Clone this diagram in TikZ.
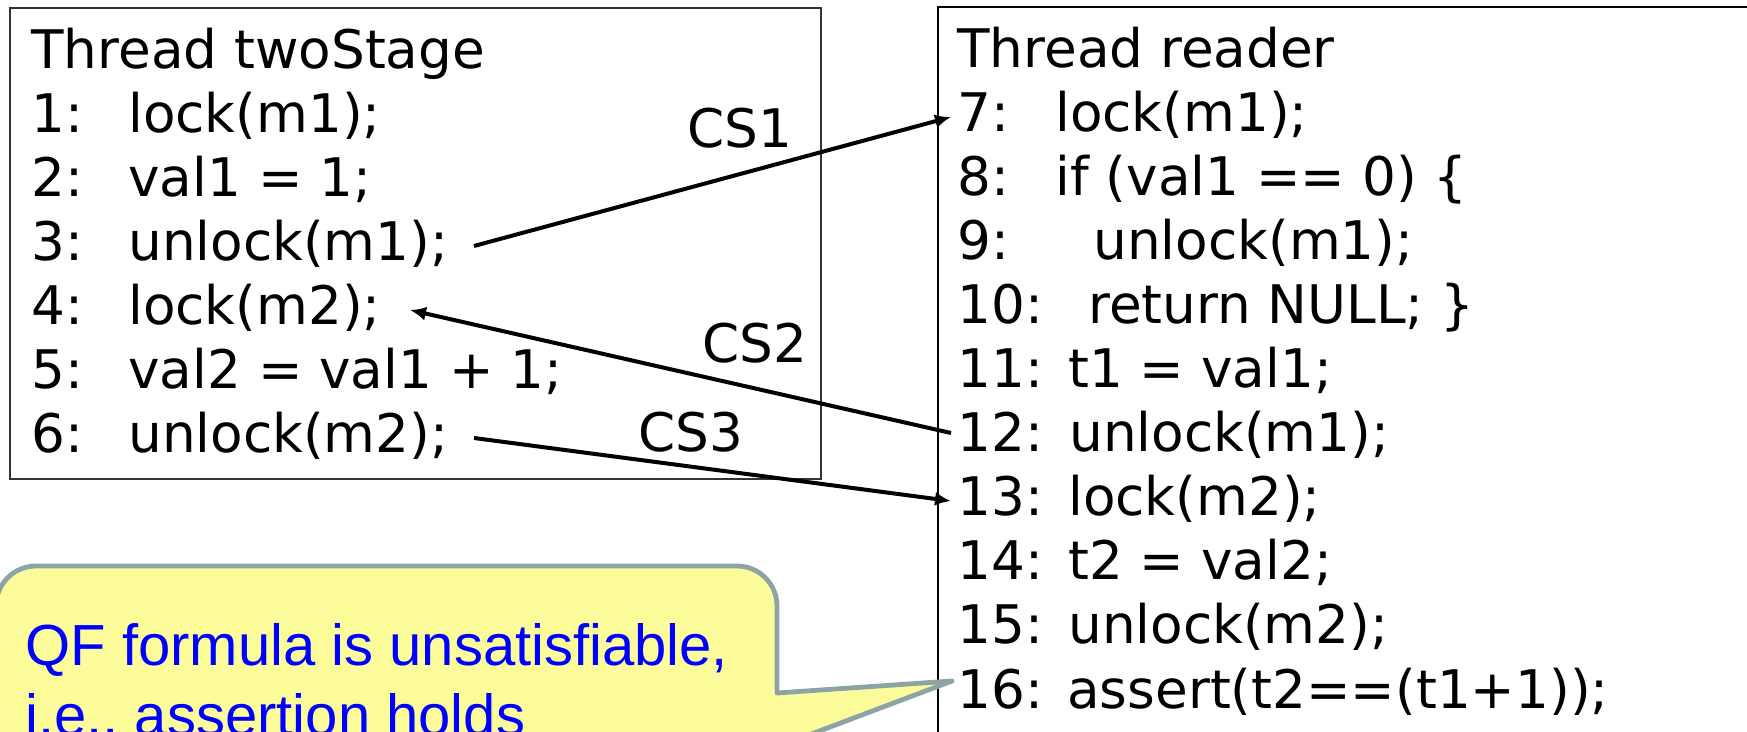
\documentclass[tikz,border=0pt]{standalone}
\usepackage{fontspec}
\setmainfont{DejaVu Sans}
\newfontfamily\notefont{Liberation Sans}
\usetikzlibrary{arrows.meta}
\definecolor{noteFill}{RGB}{253,252,154}
\definecolor{noteEdge}{RGB}{140,164,166}
\definecolor{noteText}{RGB}{0,0,255}
% line number set in a fixed-width slot, followed by the statement
\newcommand\lno[2]{\makebox[#1][l]{#2}}

\begin{document}
\begin{tikzpicture}[x=0.5pt,y=-0.5pt,
  code/.style={anchor=base west, inner sep=0pt, font=\fontsize{26.6pt}{32pt}\selectfont},
  frame/.style={draw=black, line width=1pt, anchor=north west, inner sep=0pt},
  flow/.style={line width=2pt, -{Latex[length=8pt,width=7pt]}},
  note/.style={fill=noteFill, draw=noteEdge, line width=2.4pt, line join=round},
  notetext/.style={anchor=base west, inner sep=0pt, text=noteText,
                   font=\notefont\fontsize{29pt}{34.5pt}\selectfont}]
\useasboundingbox (0,0) rectangle (1747,732);
\clip (0,0) rectangle (1747,732);

% thread frames
\node[frame, draw=black!80, minimum width=405.5pt, minimum height=235.5pt] (twostage) at (9,7) {};
\node[frame, minimum width=440pt, minimum height=400pt] (reader) at (937,6) {};

% thread twoStage
\node[code] (l0) at (31,69)  {Thread twoStage};
\node[code] (l1) at (31,133) {\lno{48.5pt}{1:}lock(m1);};
\node[code] (l2) at (31,197) {\lno{48.5pt}{2:}val1 = 1;};
\node[code] (l3) at (31,261) {\lno{48.5pt}{3:}unlock(m1);};
\node[code] (l4) at (31,325) {\lno{48.5pt}{4:}lock(m2);};
\node[code] (l5) at (31,389) {\lno{48.5pt}{5:}val2 = val1 + 1;};
\node[code] (l6) at (31,453) {\lno{48.5pt}{6:}unlock(m2);};

% thread reader
\node[code] (r0)  at (957,68)  {Thread reader};
\node[code] (r7)  at (957,132) {\lno{49pt}{7:}lock(m1);};
\node[code] (r8)  at (957,196) {\lno{49pt}{8:}if (val1 == 0) \{};
\node[code] (r9)  at (957,260) {\lno{68pt}{9:}unlock(m1);};
\node[code] (r10) at (957,324) {\lno{65.5pt}{10:}return NULL; \}};
\node[code] (r11) at (957,388) {\lno{55.5pt}{11:}t1 = val1;};
\node[code] (r12) at (957,452) {\lno{56pt}{12:}unlock(m1);};
\node[code] (r13) at (957,516) {\lno{55.5pt}{13:}lock(m2);};
\node[code] (r14) at (957,580) {\lno{55.5pt}{14:}t2 = val2;};
\node[code] (r15) at (957,644) {\lno{55.5pt}{15:}unlock(m2);};
\node[code] (r16) at (957,708) {\lno{55pt}{16:}assert(t2==(t1+1));};

% critical-section labels
\node[code] (cs1) at (687,148) {CS1};
\node[code] (cs2) at (702,363) {CS2};
\node[code] (cs3) at (638,452) {CS3};

% hand-over points between the threads
\coordinate (cs1from) at (474,246);
\coordinate (cs1to)   at (951,117);
\coordinate (cs2from) at (951,433);
\coordinate (cs2to)   at (410,310);
\coordinate (cs3from) at (474,438);
\coordinate (cs3to)   at (951,501);
\draw[flow] (cs1from) -- (cs1to);
\draw[flow] (cs2from) -- (cs2to);
\draw[flow] (cs3from) -- (cs3to);

% callout pointing at the assertion
\draw[note] (777,693) -- (952,681) -- (777,747) -- (777,800) -- (-4,800)
  -- (-4,606) arc[start angle=180, end angle=270, radius=40]
  -- (737,566) arc[start angle=270, end angle=360, radius=40] -- cycle;
\node[notetext] (note1) at (25,666) {QF formula is unsatisfiable,};
\node[notetext] (note2) at (25,735) {i.e., assertion holds};
\end{tikzpicture}
\end{document}
